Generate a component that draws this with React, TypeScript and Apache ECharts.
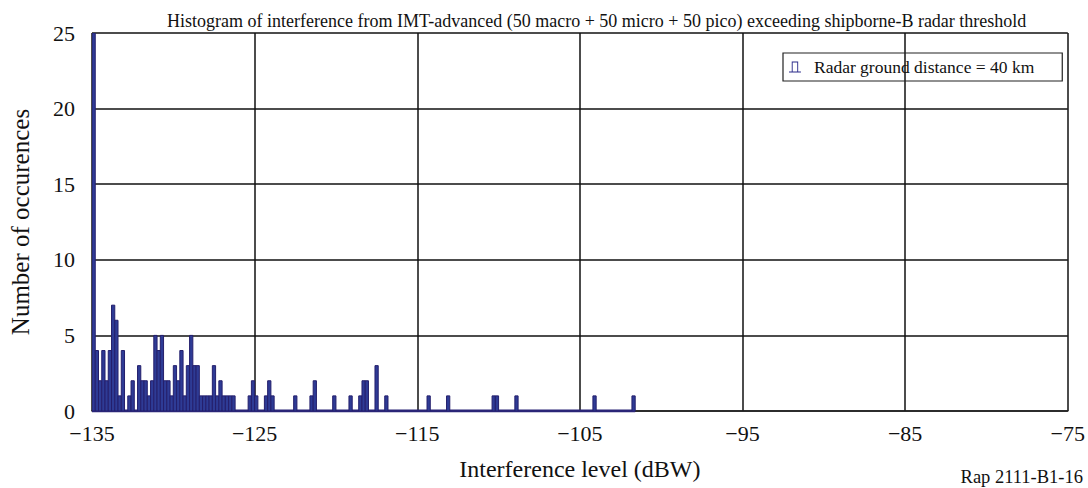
import React, { useEffect, useRef } from "react";
import * as echarts from "echarts";

const chartTitle =
  "Histogram of interference from IMT-advanced (50 macro + 50 micro + 50 pico) exceeding shipborne-B radar threshold";
const seriesName = "Radar ground distance = 40 km";
const xAxisName = "Interference level (dBW)";
const yAxisName = "Number of occurences";
const figureRef = "Rap 2111-B1-16";

const xMin = -135;
const xMax = -75;
const xStep = 10;
const yMin = 0;
const yMax = 25;
const yStep = 5;

const binWidth = 0.2;
// left edge of each non-empty bin (dBW)
const binLeft = [
  -135.0, -134.8, -134.6, -134.4, -134.2, -134.0, -133.8, -133.6, -133.4, -133.2,
  -132.8, -132.6, -132.2, -132.0, -131.8, -131.6, -131.4, -131.2, -131.0, -130.8,
  -130.6, -130.4, -130.2, -130.0, -129.8, -129.6, -129.4, -129.2, -129.0, -128.8,
  -128.6, -128.4, -128.2, -128.0, -127.8, -127.6, -127.4, -127.2, -127.0, -126.8,
  -126.6, -126.4, -125.4, -125.2, -125.0, -124.4, -124.2, -124.0, -122.6, -121.6,
  -121.4, -120.2, -119.2, -118.6, -118.4, -118.2, -117.6, -117.0, -114.4, -113.2,
  -110.4, -110.2, -109.0, -104.2, -101.8,
];
// number of occurrences in each of those bins
const counts = [
  25, 4, 2, 4, 2, 4, 7, 6, 1, 4,
  1, 2, 3, 2, 2, 1, 2, 5, 4, 5,
  2, 2, 1, 3, 2, 4, 1, 3, 5, 3,
  3, 1, 1, 1, 1, 3, 1, 2, 1, 1,
  1, 1, 1, 2, 1, 1, 2, 1, 1, 1,
  2, 1, 1, 1, 2, 2, 3, 1, 1, 1,
  1, 1, 1, 1, 1,
];
// full span of the histogram (empty bins drawn as a baseline)
const histogramRange = [-135, -101.6];

const FONT = "'Liberation Serif', 'Times New Roman', serif";
const BAR_FILL = "#2e3b95";
const BAR_STROKE = "#241f6c";

const fmtTick = (v: number) => (v < 0 ? "\u2212" + Math.abs(v) : String(v));

export default function App() {
  const ref = useRef<HTMLDivElement>(null);

  useEffect(() => {
    document.body.style.margin = "0";
    if (!ref.current) return;
    const chart = echarts.init(ref.current, null, { renderer: "svg" });

    const data = binLeft.map((l, i) => [l, counts[i]]);

    const option: any = {
      animation: false,
      backgroundColor: "#ffffff",
      title: {
        text: chartTitle,
        left: 162,
        top: 7,
        textStyle: {
          fontFamily: FONT,
          fontSize: 18,
          fontWeight: "normal",
          color: "#111",
        },
      },
      legend: {
        data: [
          {
            name: seriesName,
            icon: "path://M0,12H13V11H10V0H3V11H0Z M4,11V1H9V11Z",
          },
        ],
        left: 783,
        top: 53,
        padding: [5, 28, 5, 6],
        borderColor: "#222",
        borderWidth: 1.2,
        borderRadius: 0,
        itemWidth: 12,
        itemHeight: 11,
        itemStyle: { color: "#2a2a8a" },
        selectedMode: false,
        textStyle: {
          fontFamily: FONT,
          fontSize: 17.5,
          color: "#111",
          padding: [0, 0, 0, 8],
        },
      },
      grid: { left: 89, right: 14, top: 33, bottom: 77 },
      xAxis: {
        type: "value",
        min: xMin,
        max: xMax,
        interval: xStep,
        name: xAxisName,
        nameLocation: "middle",
        nameGap: 46,
        nameTextStyle: { fontFamily: FONT, fontSize: 24, color: "#111" },
        axisLine: { show: true, lineStyle: { color: "#222", width: 1.5 } },
        axisTick: { show: false },
        axisLabel: {
          formatter: fmtTick,
          fontFamily: FONT,
          fontSize: 22,
          color: "#111",
          margin: 11,
        },
        splitLine: { show: true, lineStyle: { color: "#111", width: 1.5 } },
      },
      yAxis: {
        type: "value",
        min: yMin,
        max: yMax,
        interval: yStep,
        name: yAxisName,
        nameLocation: "middle",
        nameGap: 59,
        nameRotate: 90,
        nameTextStyle: { fontFamily: FONT, fontSize: 25, color: "#111" },
        axisLine: { show: false },
        axisTick: { show: false },
        axisLabel: {
          fontFamily: FONT,
          fontSize: 22,
          color: "#111",
          margin: 17,
        },
        splitLine: { show: true, lineStyle: { color: "#111", width: 1.5 } },
      },
      series: [
        {
          type: "line",
          name: "baseline",
          data: [
            [histogramRange[0], 0],
            [histogramRange[1], 0],
          ],
          symbol: "none",
          lineStyle: { color: "#2a2577", width: 3 },
          z: 3,
          silent: true,
        },
        {
          type: "custom",
          name: seriesName,
          data,
          clip: true,
          z: 4,
          itemStyle: { color: "#2a2a8a" },
          renderItem: (params: any, api: any) => {
            const left = api.value(0);
            const cnt = api.value(1);
            const p0 = api.coord([left, 0]);
            const p1 = api.coord([left + binWidth, cnt]);
            const rect = {
              x: p0[0],
              y: p1[1],
              width: p1[0] - p0[0],
              height: p0[1] - p1[1],
            };
            const clipped = echarts.graphic.clipRectByRect(rect, {
              x: params.coordSys.x,
              y: params.coordSys.y - 1,
              width: params.coordSys.width,
              height: params.coordSys.height + 2,
            });
            return (
              clipped && {
                type: "rect",
                shape: clipped,
                style: {
                  fill: BAR_FILL,
                  stroke: BAR_STROKE,
                  lineWidth: 1,
                },
              }
            );
          },
        },
      ],
      graphic: [
        {
          type: "text",
          right: 5,
          top: 467,
          style: {
            text: figureRef,
            fontFamily: FONT,
            fontSize: 18.5,
            fill: "#111",
          },
        },
      ],
    };

    chart.setOption(option);
    return () => chart.dispose();
  }, []);

  return <div ref={ref} style={{ width: 1088, height: 488 }} />;
}
